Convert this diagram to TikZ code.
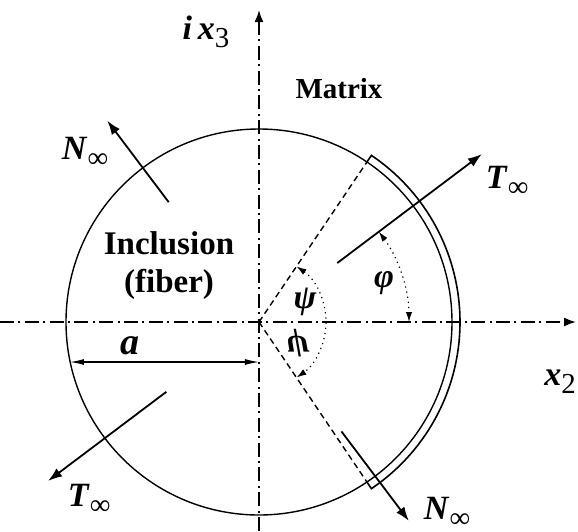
\documentclass[tikz,border=0pt]{standalone}
\usepackage{fontspec}
\setmainfont{Liberation Serif}
\usetikzlibrary{arrows.meta, positioning, calc}
\newcommand{\bilbl}[1]{\textbf{\textit{#1}}}
\newcommand{\infsub}[1]{\bilbl{#1}\raisebox{-0.5ex}{\scalebox{0.85}{\bilbl{∞}}}}

\begin{document}
\begin{tikzpicture}[x=0.5pt, y=0.5pt,
  axis/.style={line width=0.9pt, dash pattern=on 7pt off 2.2pt on 1pt off 2.2pt,
               -{Latex[length=6pt,width=4.5pt]}},
  load/.style={line width=0.9pt, -{Latex[length=7pt,width=5pt]}},
  angarc/.style={line width=0.6pt, dotted,
                 {Latex[length=5pt,width=3.2pt]}-{Latex[length=5pt,width=3.2pt]}},
  lab/.style={font=\fontsize{17}{19}\selectfont, inner sep=0pt},
  bodytext/.style={font=\bfseries\fontsize{16.5}{19}\selectfont, align=center, inner sep=0pt}]
  \useasboundingbox (-259,-209) rectangle (319,322);
  \coordinate (O) at (0,0);

  % axes
  \coordinate (x2s) at (-259,0);
  \coordinate (x2e) at (317,0);
  \coordinate (x3s) at (0,-209);
  \coordinate (x3e) at (0,312);
  \draw[axis] (x2s) -- (x2e);
  \draw[axis] (x3s) -- (x3e);

  % inclusion and interface crack
  \draw[line width=0.7pt] (O) circle (193);
  \coordinate (crU) at (56:193);
  \coordinate (crL) at (-56:193);
  \draw[line width=0.8pt] (crL) -- (-56:201) arc (-56:56:201) -- (crU);
  \draw[line width=0.7pt, dash pattern=on 3pt off 2pt] (O) -- (crU);
  \draw[line width=0.7pt, dash pattern=on 3pt off 2pt] (O) -- (crL);

  % angles
  \draw[angarc] (56:67) arc (56:-56:67);
  \draw[angarc] (37:150) arc (37:0:150);

  % far-field loads
  \coordinate (T1s) at (37:98);   \coordinate (T1e) at (37:279);
  \coordinate (T2s) at (217:116); \coordinate (T2e) at (217:264);
  \coordinate (N1s) at (127:150); \coordinate (N1e) at (127:252);
  \coordinate (N2s) at (-53:137); \coordinate (N2e) at (-53:249);
  \draw[load] (T1s) -- (T1e);
  \draw[load] (T2s) -- (T2e);
  \draw[load] (N1s) -- (N1e);
  \draw[load] (N2s) -- (N2e);

  % radius
  \coordinate (aL) at (-189,-40);
  \coordinate (aR) at (0,-40);
  \draw[line width=0.6pt, {Latex[length=7pt,width=3pt]}-{Latex[length=7pt,width=3pt]}] (aL) -- (aR);

  \node[lab] (T1) at (248,141) {\infsub{T}};
  \node[lab] (T2) at (-170,-177) {\infsub{T}};
  \node[lab] (N1) at (-174,170) {\infsub{N}};
  \node[lab] (N2) at (188,-190) {\infsub{N}};
  \node[lab] (ix3) at (-53,290) {\bilbl{i\,x}\raisebox{-0.5ex}{\scalebox{0.85}{3}}};
  \node[lab] (x2) at (301,-60) {\bilbl{x}\raisebox{-0.5ex}{\scalebox{0.85}{2}}};
  \node[lab] (psi) at (46,20) {\bilbl{ψ}};
  \node[lab] (psim) at (39,-21) {\scalebox{1}[-1]{\bilbl{ψ}}};
  \node[lab] (phi) at (125,39) {\bilbl{φ}};
  \node[lab, font=\fontsize{19}{21}\selectfont] (rad) at (-129,-24) {\bilbl{a}};
  \node[bodytext, font=\bfseries\fontsize{14.5}{17}\selectfont] (mtx) at (80,233) {Matrix};
  \node[bodytext] (incl) at (-90,56) {Inclusion\\(fiber)};
\end{tikzpicture}
\end{document}
